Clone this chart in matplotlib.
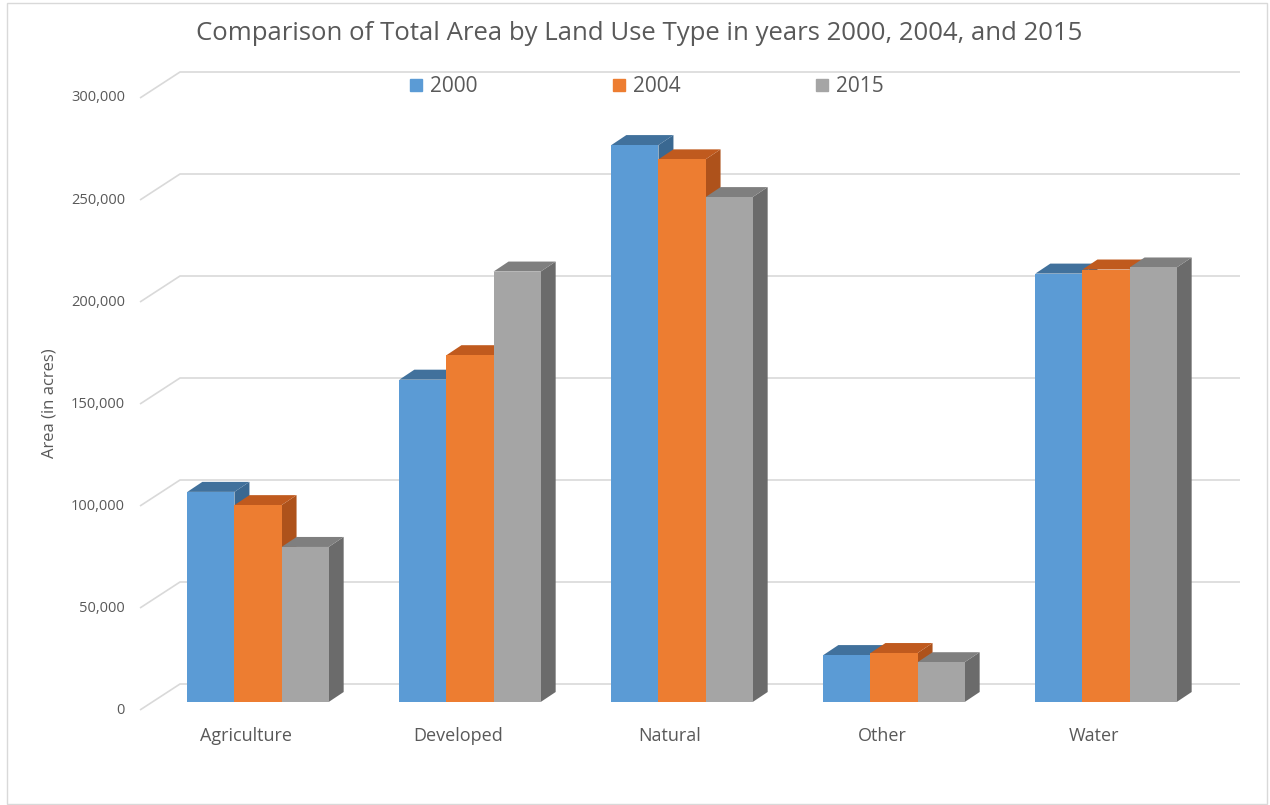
import matplotlib
matplotlib.use("Agg")
import matplotlib.pyplot as plt
from matplotlib.patches import Rectangle, Polygon
from matplotlib.lines import Line2D

# ---- data ----
categories = ["Agriculture", "Developed", "Natural", "Other", "Water"]
years = ["2000", "2004", "2015"]
values_2000 = [103000, 158000, 273000, 23000, 210000]
values_2004 = [96500, 170000, 266000, 24000, 212000]
values_2015 = [76000, 211000, 247500, 19500, 213000]
tick_values = [0, 50000, 100000, 150000, 200000, 250000, 300000]
tick_labels = ["0", "50,000", "100,000", "150,000", "200,000", "250,000", "300,000"]

series = [values_2000, values_2004, values_2015]
front_colors = ["#5B9BD5", "#ED7D31", "#A5A5A5"]
top_colors = ["#41719C", "#C05A1E", "#7F7F7F"]
side_colors = ["#3A6891", "#AE521B", "#6B6B6B"]

FONT = "Open Sans"
TXT = "#595959"
GRID = "#D9D9D9"

W, H = 1270, 805
fig = plt.figure(figsize=(W / 100, H / 100), dpi=100)
ax = fig.add_axes([0, 0, 1, 1])
ax.set_axis_off()

# scale: pixels per category unit and per value unit
PXC = 212.0
PXV = 102.0 / 50000.0
x_origin_px = 258.0   # pixel x of category 0 (bar front plane)
y_origin_px = 702.0   # pixel y (from top) of value 0 (bar front plane)
ax.set_xlim(-x_origin_px / PXC, (W - x_origin_px) / PXC)
ax.set_ylim(-(H - y_origin_px) / PXV, y_origin_px / PXV)

def dx(px):
    return px / PXC

def dy(px_up):
    return px_up / PXV

# depth offsets (pixels): front plane, back wall, bar depth
front_off = (-12, -8)   # (right, up)
wall_off = (28, 18)
bar_off = (15, 10)

x_left, x_right = -0.5, len(categories) - 0.5

# gridlines on back wall + left wall diagonals
for v in tick_values:
    xs = [x_left + dx(front_off[0]), x_left + dx(wall_off[0]), x_right + dx(wall_off[0])]
    ys = [v + dy(front_off[1]), v + dy(wall_off[1]), v + dy(wall_off[1])]
    ax.plot(xs, ys, color=GRID, lw=1.2, solid_capstyle="butt", zorder=1)

for v, lab in zip(tick_values, tick_labels):
    ax.text(x_left + dx(front_off[0]) - dx(15), v + dy(front_off[1]), lab,
            ha="right", va="center", fontsize=10.5, color=TXT, family=FONT)

# bars
nser = len(series)
w = 1.0 / (nser + 1.5)
bdx, bdy = dx(bar_off[0]), dy(bar_off[1])
z = 2
for i in range(len(categories)):
    for j in range(nser):
        v = series[j][i]
        x0 = i - nser * w / 2 + j * w
        x1 = x0 + w
        side = Polygon([(x1, 0), (x1, v), (x1 + bdx, v + bdy), (x1 + bdx, bdy)],
                       closed=True, facecolor=side_colors[j], edgecolor="none", zorder=z)
        top = Polygon([(x0, v), (x1, v), (x1 + bdx, v + bdy), (x0 + bdx, v + bdy)],
                      closed=True, facecolor=top_colors[j], edgecolor="none", zorder=z)
        front = Rectangle((x0, 0), w, v, facecolor=front_colors[j], edgecolor="none", zorder=z)
        ax.add_patch(side)
        ax.add_patch(top)
        ax.add_patch(front)
        z += 1

# category labels
for i, c in enumerate(categories):
    ax.text(i + dx(front_off[0]), -dy(34), c, ha="center", va="center",
            fontsize=13, color=TXT, family=FONT)

# axis title
fig.text(50 / W, 1 - 403 / H, "Area (in acres)", rotation=90, ha="center", va="center",
         fontsize=12, color=TXT, family=FONT)

# chart title
fig.text(639 / W, 1 - 33 / H, "Comparison of Total Area by Land Use Type in years 2000, 2004, and 2015",
         ha="center", va="center", fontsize=18.5, color=TXT, family=FONT)

# legend
handles = [Line2D([], [], marker="s", linestyle="none", markersize=9,
                  markerfacecolor=c, markeredgecolor=c) for c in front_colors]
leg = fig.legend(handles, years, loc="center", bbox_to_anchor=(647 / W, 1 - 87 / H),
                 ncol=3, frameon=False, fontsize=15, handlelength=0.55, handletextpad=0.4,
                 columnspacing=6.5, borderpad=0)
for t in leg.get_texts():
    t.set_color(TXT)
    t.set_family(FONT)

# chart border
fig.add_artist(Rectangle((7 / W, 1 - 804 / H), (1267 - 7) / W, (804 - 3) / H,
                         transform=fig.transFigure, fill=False, edgecolor=GRID, lw=1.0))

fig.savefig("out.png", dpi=100, facecolor="white")
